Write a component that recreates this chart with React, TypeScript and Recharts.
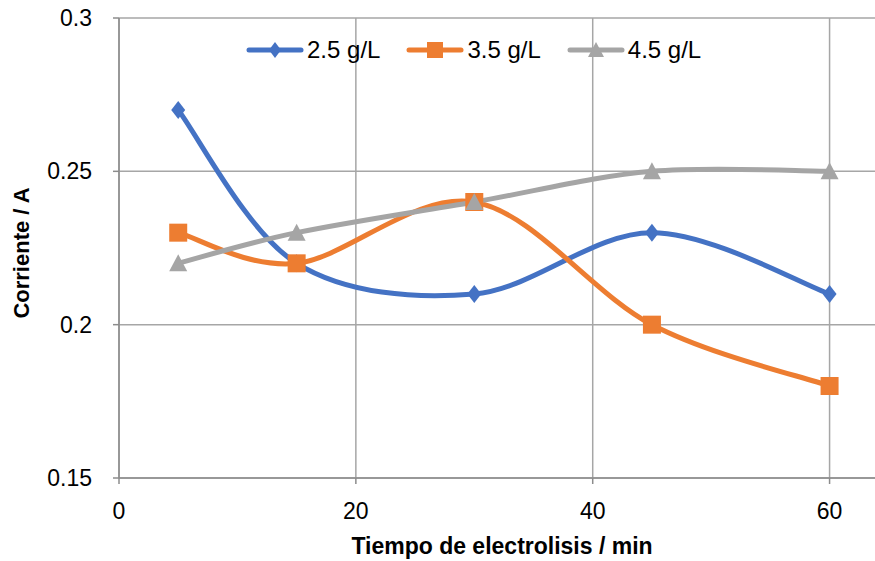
import React from "react";
import {
  LineChart,
  Line,
  XAxis,
  YAxis,
  CartesianGrid,
} from "recharts";

// electrolysis time (min)
const tiempos = [5, 15, 30, 45, 60];

// current (A) for each concentration
const serie25 = [0.27, 0.22, 0.21, 0.23, 0.21];
const serie35 = [0.23, 0.22, 0.24, 0.2, 0.18];
const serie45 = [0.22, 0.23, 0.24, 0.25, 0.25];

const seriesNames = ["2.5 g/L", "3.5 g/L", "4.5 g/L"];
const xTicks = [0, 20, 40, 60];
const yTicks = [0.15, 0.2, 0.25, 0.3];

const BLUE = "#4472C4";
const ORANGE = "#ED7D31";
const GRAY = "#A5A5A5";
const FONT = "'Liberation Sans', Arial, sans-serif";

const data = tiempos.map((t, i) => ({
  t,
  a: serie25[i],
  b: serie35[i],
  c: serie45[i],
}));

// Excel-like smoothing (Catmull-Rom -> bezier, tension 1/6)
function excelCurve(context: any) {
  let pts: number[][] = [];
  return {
    areaStart() {},
    areaEnd() {},
    lineStart() {
      pts = [];
    },
    point(x: number, y: number) {
      pts.push([+x, +y]);
    },
    lineEnd() {
      if (!pts.length) return;
      context.moveTo(pts[0][0], pts[0][1]);
      for (let i = 0; i < pts.length - 1; i++) {
        const p0 = pts[i - 1] ?? pts[i];
        const p1 = pts[i];
        const p2 = pts[i + 1];
        const p3 = pts[i + 2] ?? pts[i + 1];
        context.bezierCurveTo(
          p1[0] + (p2[0] - p0[0]) / 6,
          p1[1] + (p2[1] - p0[1]) / 6,
          p2[0] - (p3[0] - p1[0]) / 6,
          p2[1] - (p3[1] - p1[1]) / 6,
          p2[0],
          p2[1]
        );
      }
    },
  };
}

const Diamond = ({ cx, cy, r = 8 }: any) => (
  <path
    d={`M${cx},${cy - r - 1} L${cx + r - 1},${cy} L${cx},${cy + r + 1} L${cx - r + 1},${cy} Z`}
    fill={BLUE}
  />
);
const Square = ({ cx, cy, r = 9 }: any) => (
  <rect x={cx - r} y={cy - r} width={2 * r} height={2 * r} fill={ORANGE} />
);
const Triangle = ({ cx, cy, r = 9 }: any) => (
  <path
    d={`M${cx},${cy - r} L${cx + r},${cy + r - 1} L${cx - r},${cy + r - 1} Z`}
    fill={GRAY}
  />
);

const markers = [Diamond, Square, Triangle];
const colors = [BLUE, ORANGE, GRAY];

function LegendBox() {
  return (
    <div
      style={{
        position: "absolute",
        left: 246,
        top: 36,
        display: "flex",
        alignItems: "center",
        fontFamily: FONT,
        fontSize: 24,
        color: "#000",
      }}
    >
      {seriesNames.map((name, i) => {
        const M = markers[i];
        return (
          <div
            key={name}
            style={{ display: "flex", alignItems: "center", marginRight: i < 2 ? 26 : 0 }}
          >
            <svg width={58} height={24} style={{ marginRight: 3 }}>
              <line x1={3} y1={12} x2={55} y2={12} stroke={colors[i]} strokeWidth={5} strokeLinecap="round" />
              <M cx={29} cy={12} r={i === 0 ? 7 : 8} />
            </svg>
            <span>{name}</span>
          </div>
        );
      })}
    </div>
  );
}

export default function App() {
  const lines = [
    { key: "a", color: BLUE, M: Diamond },
    { key: "b", color: ORANGE, M: Square },
    { key: "c", color: GRAY, M: Triangle },
  ];
  return (
    <div
      style={{
        position: "absolute",
        left: 0,
        top: 0,
        width: 875,
        height: 561,
        overflow: "hidden",
        background: "#fff",
      }}
    >
      <LineChart
        width={960}
        height={561}
        data={data}
        margin={{ top: 18, right: 12, left: 19, bottom: 33 }}
      >
        <CartesianGrid stroke="#a6a6a6" strokeWidth={1.5} />
        <XAxis
          dataKey="t"
          type="number"
          domain={[0, 70]}
          ticks={xTicks}
          height={50}
          stroke="#8c8c8c"
          strokeWidth={1.5}
          tickSize={6}
          tickMargin={19}
          tick={{ fill: "#000", fontSize: 23, fontFamily: FONT }}
        />
        <YAxis
          type="number"
          domain={[0.15, 0.3]}
          ticks={yTicks}
          width={100}
          stroke="#8c8c8c"
          strokeWidth={1.5}
          tickSize={6}
          tickMargin={21}
          tick={{ fill: "#000", fontSize: 23, fontFamily: FONT }}
        />
        {lines.map(({ key, color, M }) => (
          <Line
            key={key}
            dataKey={key}
            type={excelCurve as any}
            stroke={color}
            strokeWidth={5}
            strokeLinecap="round"
            isAnimationActive={false}
            dot={(p: any) => <M key={`${key}-${p.index}`} cx={p.cx} cy={p.cy} />}
            activeDot={false}
          />
        ))}
      </LineChart>
      <LegendBox />
      <div
        style={{
          position: "absolute",
          left: 0,
          width: 1004,
          top: 533,
          textAlign: "center",
          fontFamily: FONT,
          fontWeight: "bold",
          fontSize: 23,
          color: "#000",
        }}
      >
        Tiempo de electrolisis / min
      </div>
      <div
        style={{
          position: "absolute",
          left: 22,
          top: 253,
          transform: "translate(-50%, -50%) rotate(-90deg)",
          whiteSpace: "nowrap",
          fontFamily: FONT,
          fontWeight: "bold",
          fontSize: 22,
          color: "#000",
        }}
      >
        Corriente / A
      </div>
    </div>
  );
}
